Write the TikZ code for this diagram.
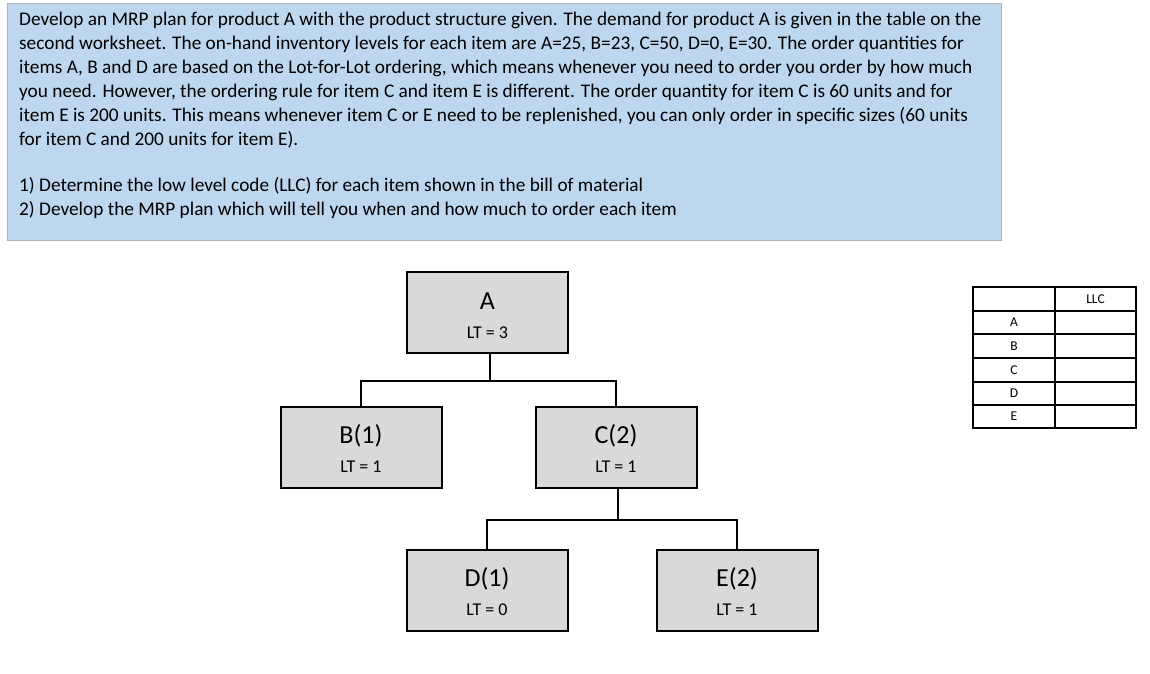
\documentclass[tikz,border=0pt]{standalone}
\usepackage{fontspec}
\setmainfont{Carlito}
\begin{document}
\begin{tikzpicture}[x=1pt,y=-1pt,
  txt/.style={anchor=west,inner sep=0pt,font=\fontsize{19.3}{22}\selectfont},
  item/.style={draw,line width=2pt,fill=black!15,minimum width=161pt,minimum height=81pt,inner sep=0pt},
  conn/.style={line width=1.2pt},
  stem/.style={line width=2.2pt},
  cell/.style={font=\fontsize{13.5}{14}\selectfont,inner sep=0pt}]
\fill[white] (0,0) rectangle (1150,673);
\filldraw[fill={rgb,255:red,189;green,215;blue,238},draw=black!30] (7,3) rectangle (1001,240);
\node[txt] (l1) at (19,20) {Develop an MRP plan for product A with the product structure given. The demand for product A is given in the table on the};
\node[txt] (l2) at (19,44) {second worksheet. The on-hand inventory levels for each item are A=25, B=23, C=50, D=0, E=30. The order quantities for};
\node[txt] (l3) at (19,68) {items A, B and D are based on the Lot-for-Lot ordering, which means whenever you need to order you order by how much};
\node[txt] (l4) at (19,92) {you need. However, the ordering rule for item C and item E is different. The order quantity for item C is 60 units and for};
\node[txt] (l5) at (19,116) {item E is 200 units. This means whenever item C or E need to be replenished, you can only order in specific sizes (60 units};
\node[txt] (l6) at (19,140) {for item C and 200 units for item E).};
\node[txt] (l7) at (19,186) {1) Determine the low level code (LLC) for each item shown in the bill of material};
\node[txt] (l8) at (19,210) {2) Develop the MRP plan which will tell you when and how much to order each item};

\node[item] (A) at (487.5,312.5) {};
\node[item] (B) at (361,447) {};
\node[item] (C) at (616,447) {};
\node[item] (D) at (487,590) {};
\node[item] (E) at (737,590) {};
\foreach \n/\t/\l in {A/A/3,B/B(1)/1,C/C(2)/1,D/D(1)/0,E/E(2)/1}{
  \node[font=\fontsize{26}{28}\selectfont,inner sep=0pt] (\n t) at ([yshift=11pt]\n.center) {\t};
  \node[font=\fontsize{18}{20}\selectfont,inner sep=0pt] (\n l) at ([yshift=-20pt]\n.center) {LT = \l};
}
\coordinate (j1) at (490,381);
\coordinate (j2) at (618,520);
\draw[stem] (A.south -| j1) -- (j1);
\draw[conn] (B.north) |- (j1) -| (C.north);
\draw[stem] (C.south -| j2) -- (j2);
\draw[conn] (D.north) |- (j2) -| (E.north);

\draw[line width=1.2pt] (973,287) rectangle (1136,428);
\draw[line width=1.2pt] (1055,287) -- (1055,428);
\foreach \y in {311,334,358,382,405}{\draw[line width=1.2pt] (973,\y) -- (1136,\y);}
\node[cell] (hd) at (1095.5,299) {LLC};
\node[cell] (ra) at (1014,322.5) {A};
\node[cell] (rb) at (1014,346) {B};
\node[cell] (rc) at (1014,370) {C};
\node[cell] (rd) at (1014,393.5) {D};
\node[cell] (re) at (1014,416.5) {E};
\end{tikzpicture}
\end{document}
